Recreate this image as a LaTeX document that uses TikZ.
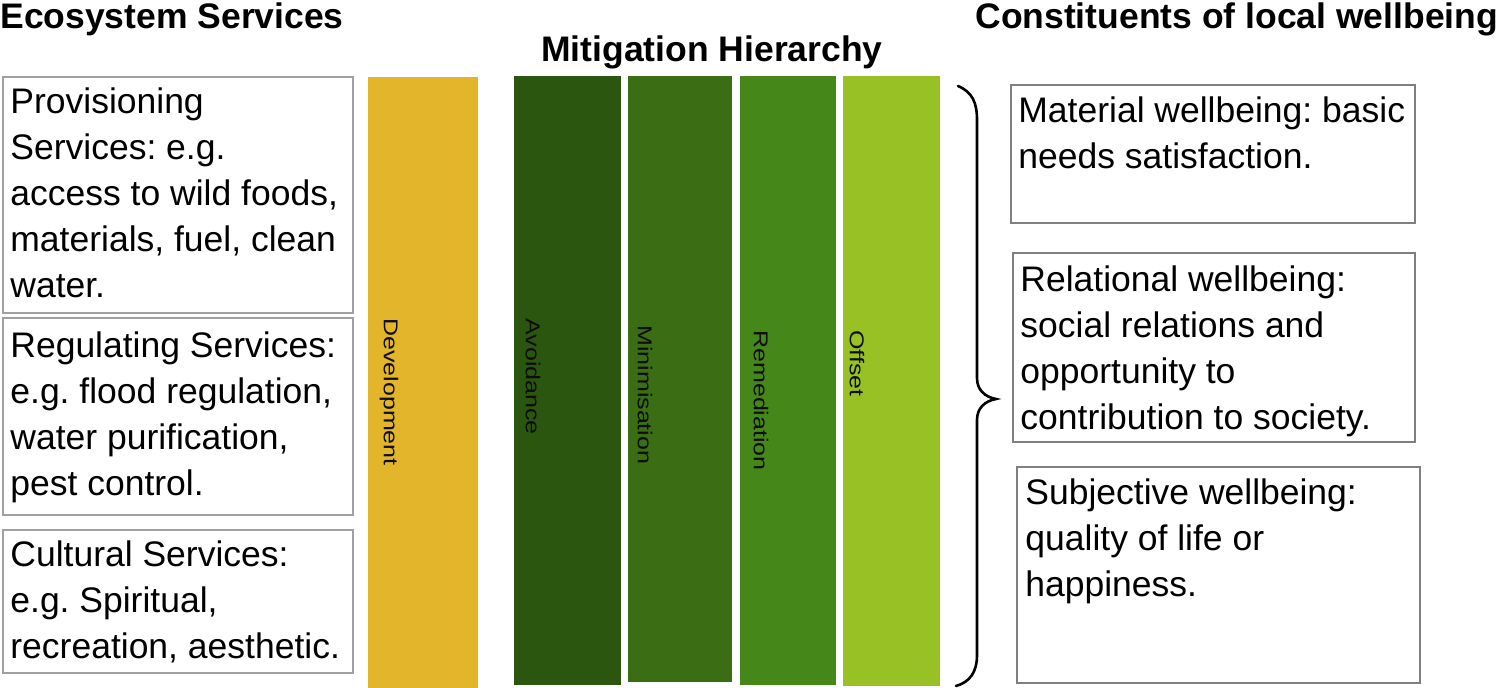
\documentclass[tikz,border=0pt]{standalone}
\usepackage{fontspec}
\usepackage{graphicx}
\setmainfont{Liberation Sans}
\usetikzlibrary{fit}
\definecolor{devc}{RGB}{226,181,42}
\definecolor{avc}{RGB}{43,86,15}
\definecolor{minc}{RGB}{58,109,20}
\definecolor{remc}{RGB}{70,135,26}
\definecolor{offc}{RGB}{151,193,37}
\definecolor{lboxc}{RGB}{160,160,160}
\definecolor{rboxc}{RGB}{128,128,128}
\newcommand{\fstrut}{\rule{0pt}{14pt}}
\frenchspacing
\begin{document}
\begin{tikzpicture}[x=0.5pt,y=-0.5pt,
  box/.style={draw=#1, line width=1pt, inner sep=0pt},
  bar/.style={fill=#1, draw=none, inner sep=0pt},
  body/.style={anchor=north west, inner sep=0pt, align=left, font=\fontsize{17.75}{23}\selectfont},
  head/.style={anchor=base west, inner sep=0pt, font=\fontsize{17.75}{21}\selectfont\bfseries},
  vlabel/.style={anchor=west, rotate=-90, inner sep=0pt, text=black!95, font=\fontsize{10}{12}\selectfont}]
\useasboundingbox (0,0) rectangle (1500,688);

% headers
\node[head] (hes) at (0,29) {Ecosystem Services};
\node[head] (hmh) at (541,62) {Mitigation Hierarchy};
\node[head] (hcw) at (975,29) {Constituents of local wellbeing};

% bars
\node[bar=devc, fit={(368,77) (478,688)}] (dev) {};
\node[bar=avc, fit={(514,76) (621,685)}] (avo) {};
\node[bar=minc, fit={(628,76) (732,682)}] (mini) {};
\node[bar=remc, fit={(740,76) (836,685)}] (rem) {};
\node[bar=offc, fit={(843,76) (940,686)}] (off) {};

\node[vlabel] (devl) at (389,318) {\scalebox{1.25}[1]{Development}};
\node[vlabel] (avol) at (533,318) {\scalebox{1.25}[1]{Avoidance}};
\node[vlabel] (minl) at (645,325) {\scalebox{1.25}[1]{Minimisation}};
\node[vlabel] (reml) at (761,330) {\scalebox{1.25}[1]{Remediation}};
\node[vlabel] (offl) at (857,330) {\scalebox{1.25}[1]{Offset}};

% left boxes
\node[box=lboxc, fit={(3,77) (353,313)}] (prov) {};
\node[box=lboxc, fit={(3,318) (353,515)}] (regu) {};
\node[box=lboxc, fit={(3,530) (353,673)}] (cult) {};
\node[body] (provt) at (10,85) {\fstrut Provisioning\\Services: e.g.\\access to wild foods,\\materials, fuel, clean\\water.};
\node[body] (regut) at (10,329) {\fstrut Regulating Services:\\e.g. flood regulation,\\water purification,\\pest control.};
\node[body] (cultt) at (10,538) {\fstrut Cultural Services:\\e.g. Spiritual,\\recreation, aesthetic.};

% right boxes
\node[box=rboxc, fit={(1011,85) (1415,223)}] (mat) {};
\node[box=rboxc, fit={(1013,253) (1415,442)}] (rel) {};
\node[box=rboxc, fit={(1017,467) (1420,683)}] (sub) {};
\node[body] (matt) at (1018,94) {\fstrut Material wellbeing: basic\\needs satisfaction.};
\node[body] (relt) at (1020,263) {\fstrut Relational wellbeing:\\social relations and\\opportunity to\\contribution to society.};
\node[body] (subt) at (1025,476) {\fstrut Subjective wellbeing:\\quality of life or\\happiness.};

% brace
\coordinate (bt) at (958,86);
\coordinate (bb) at (956,686);
\coordinate (tip) at (996,399);
\draw[line width=1.3pt, line cap=round] (bt) .. controls (972,92) and (977,102) .. (977,120) -- (977,378)
  .. controls (977,390) and (985,397) .. (tip)
  .. controls (985,401) and (977,408) .. (977,420) -- (977,655)
  .. controls (977,672) and (970,682) .. (bb);
\end{tikzpicture}
\end{document}
